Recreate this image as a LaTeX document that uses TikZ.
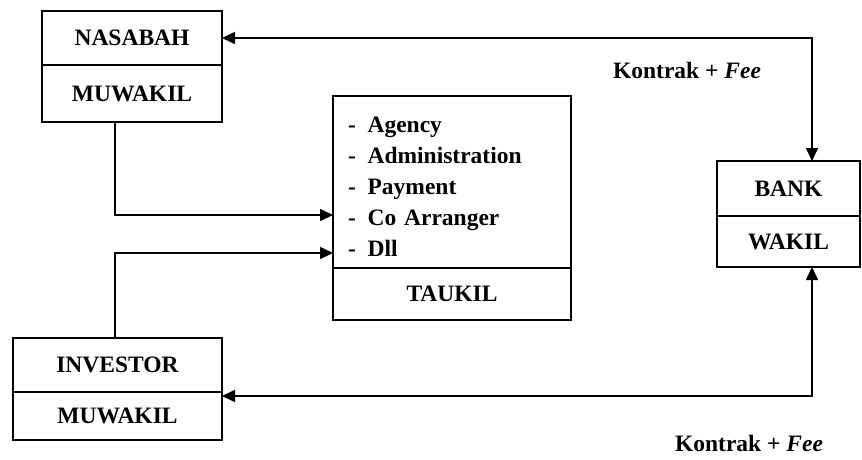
\documentclass[tikz,border=0pt]{standalone}
\usepackage{fontspec}
\setmainfont{Liberation Serif}
\usetikzlibrary{positioning,arrows.meta}

\begin{document}
\begin{tikzpicture}[x=1pt,y=-1pt,
  every node/.style={font=\bfseries\fontsize{23.5}{31}\selectfont},
  cell/.style={draw, line width=1.6pt, outer sep=0pt, inner sep=0pt},
  link/.style={line width=1.6pt, -{Triangle[length=13pt,width=12pt]}},
  twolink/.style={line width=1.6pt, {Triangle[length=13pt,width=12pt]}-{Triangle[length=13pt,width=12pt]}}]
\useasboundingbox (0,0) rectangle (862,459);

%%%%%LEFT PARTIES%%%%%%%%%
\node[cell, minimum width=180pt, minimum height=54pt] (nasabah) at (132,38) {NASABAH};
\node[cell, minimum width=180pt, minimum height=57pt, below=0pt of nasabah] (muwakilA) {MUWAKIL};

\node[cell, minimum width=209pt, minimum height=54pt] (investor) at (117.5,365) {INVESTOR};
\node[cell, minimum width=209pt, minimum height=48pt, below=0pt of investor] (muwakilB) {MUWAKIL};

%%%%%TAUKIL%%%%%%%%%
\node[cell, minimum width=238pt, minimum height=172pt, text width=208pt, inner xsep=15pt, align=left] (tasks) at (452,182)
  {\rule{0pt}{26pt}-\enspace Agency\\ -\enspace Administration\\ -\enspace Payment\\ -\enspace Co Arranger\\ -\enspace Dll};
\node[cell, minimum width=238pt, minimum height=52pt, below=0pt of tasks] (taukil) {TAUKIL};

%%%%%BANK%%%%%%%%%
\node[cell, minimum width=143pt, minimum height=55pt] (bank) at (788.5,188.5) {BANK};
\node[cell, minimum width=143pt, minimum height=51pt, below=0pt of bank] (wakil) {WAKIL};

%%%%%CONNECTORS%%%%%%%
\coordinate (inTop) at ([yshift=-33pt]tasks.west);
\coordinate (inBottom) at ([yshift=-71pt]tasks.west);
\coordinate (bankTop) at ([xshift=23.5pt]bank.north);
\coordinate (bankBottom) at ([xshift=23.5pt]wakil.south);
\coordinate (investorSide) at ([yshift=-4pt]investor.south east);

\draw[twolink] (nasabah.east) -| (bankTop);
\draw[twolink] (investorSide) -| (bankBottom);
\draw[link] ([xshift=-17pt]muwakilA.south) |- (inTop);
\draw[link] ([xshift=-2.5pt]investor.north) |- (inBottom);

%%%%%LABELS%%%%%%%
\node (feeTop) at (687,70) {Kontrak + \textit{Fee}};
\node (feeBottom) at (749,443) {Kontrak + \textit{Fee}};

\end{tikzpicture}
\end{document}
